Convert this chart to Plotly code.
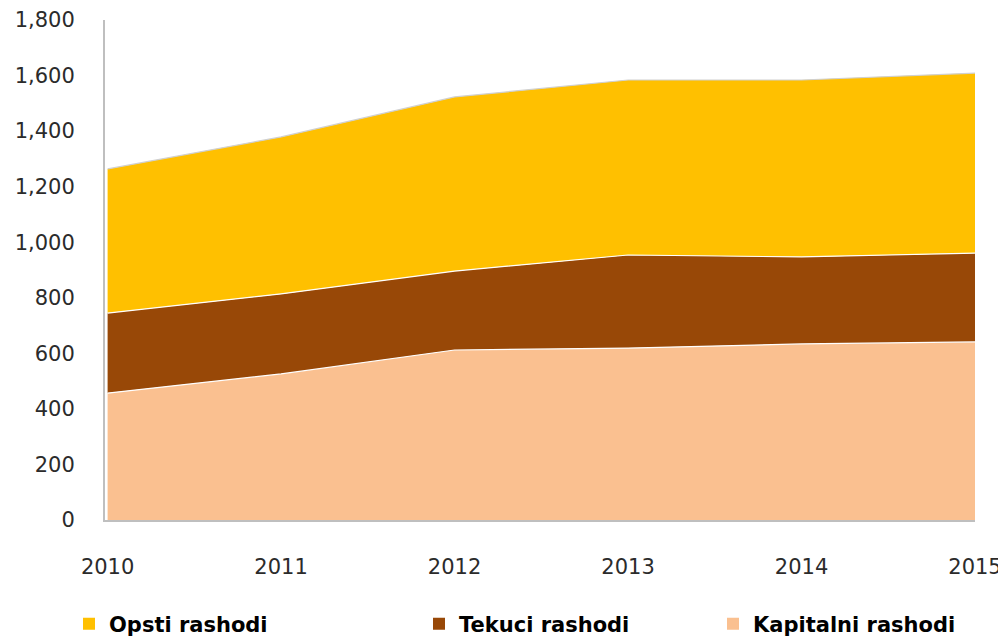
import plotly.graph_objects as go

years = [2010, 2011, 2012, 2013, 2014, 2015]
kapitalni = [457, 526, 612, 619, 634, 641]
tekuci = [288, 288, 284, 335, 313, 320]
opsti = [519, 565, 627, 630, 637, 648]

names = ["Kapitalni rashodi", "Tekuci rashodi", "Opsti rashodi"]
colors = ["#FAC090", "#984807", "#FFC000"]
lines = ["#ffffff", "#ffffff", "#d0d0d0"]
legends = ["legend3", "legend2", "legend"]

W, H = 998, 632
fig = go.Figure()
for vals, name, col, lc in zip([kapitalni, tekuci, opsti], names, colors, lines):
    fig.add_trace(go.Scatter(
        x=years, y=vals, name=name, mode="lines", stackgroup="one",
        fillcolor=col, line=dict(color=lc, width=1.2), showlegend=False,
    ))
# legend entries with square markers
for name, col, lg in zip(names, colors, legends):
    fig.add_trace(go.Scatter(
        x=[None], y=[None], name=name, mode="markers",
        marker=dict(symbol="square", size=12, color=col), legend=lg,
    ))

legfont = dict(family="DejaVu Sans", size=21, color="#000000", weight="bold")
legy = 1 - 616 / H
tickfont = dict(family="DejaVu Sans", size=21, color="#2b2b2b")
fig.update_layout(
    width=W, height=H,
    margin=dict(l=97, r=31, t=12, b=120, autoexpand=False),
    plot_bgcolor="white", paper_bgcolor="white",
    font=dict(family="DejaVu Sans", size=21, color="#2b2b2b"),
    xaxis=dict(range=[2009.985, 2015], tickvals=years, ticktext=[str(y) for y in years],
               showgrid=False, showline=True, linecolor="#bfbfbf", linewidth=2,
               ticks="", ticklabelstandoff=27, zeroline=False, tickangle=0,
               automargin=False, ticklabeloverflow="allow", tickfont=tickfont),
    yaxis=dict(range=[0, 1800], dtick=200, tickformat=",", showgrid=False,
               showline=True, linecolor="#bfbfbf", linewidth=2, ticks="",
               ticklabelstandoff=24, zeroline=False, automargin=False,
               ticklabeloverflow="allow", tickfont=tickfont),
    legend=dict(xref="container", yref="container", x=61 / W, y=legy, xanchor="left",
                yanchor="middle", font=legfont, bgcolor="rgba(0,0,0,0)"),
    legend2=dict(xref="container", yref="container", x=411 / W, y=legy, xanchor="left",
                 yanchor="middle", font=legfont, bgcolor="rgba(0,0,0,0)"),
    legend3=dict(xref="container", yref="container", x=705 / W, y=legy, xanchor="left",
                 yanchor="middle", font=legfont, bgcolor="rgba(0,0,0,0)"),
)

fig.write_html("out.html")
